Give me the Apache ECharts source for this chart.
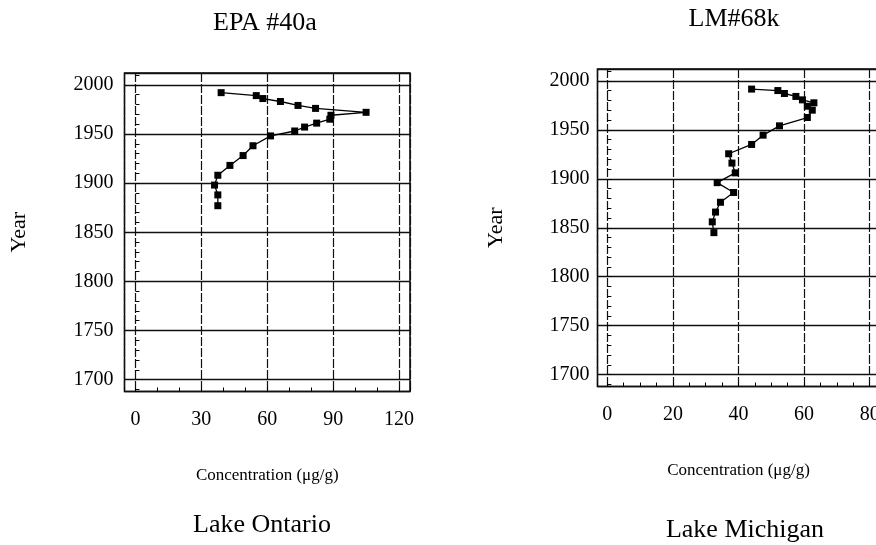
<!DOCTYPE html>
<html>
<head>
<meta charset="utf-8">
<script src="https://cdn.jsdelivr.net/npm/echarts@6/dist/echarts.min.js"></script>
<style>
  html, body { margin: 0; background: #fff; }
  #main { width: 876px; height: 545px; }
</style>
</head>
<body>
<div id="main"></div>
<script>
// Lake Ontario core EPA #40a (depth order, top to bottom)
const ontarioConc = [39, 55, 58, 66, 74, 82, 105, 89, 88.5, 82.5, 77, 72.5, 61.5, 53.5, 49, 43, 37.5, 36, 37.5, 37.5];
const ontarioYear = [1992, 1989, 1986, 1983, 1979, 1976, 1972, 1969, 1965, 1961, 1957, 1953, 1948, 1938, 1928, 1918, 1908, 1898, 1888, 1877];

// Lake Michigan core LM#68k
const michiganConc = [44, 52, 54, 57.5, 59.5, 63, 61, 62.5, 61, 52.5, 47.5, 44, 37, 38, 39, 33.5, 38.5, 34.5, 33, 32, 32.5];
const michiganYear = [1991.5, 1990, 1987, 1984, 1980.5, 1977.5, 1974, 1970, 1962.5, 1954, 1944.5, 1935, 1925.5, 1916, 1906, 1896, 1886, 1876, 1866, 1856, 1845];

const ontarioTicks = [0, 30, 60, 90, 120];
const michiganTicks = [0, 20, 40, 60, 80];
const yearTicks = [1700, 1750, 1800, 1850, 1900, 1950, 2000];

const serif = 'Liberation Serif';
const chart = echarts.init(document.getElementById('main'));

function pairs(xs, ys) {
  return xs.map((x, i) => [x, ys[i]]);
}

// axis carrying labels + small inside ticks
function labelX(grid, min, max, step, ticks, name) {
  return {
    type: 'value', gridIndex: grid, position: 'bottom', min: min, max: max,
    minInterval: step, maxInterval: step,
    name: name, nameLocation: 'middle', nameGap: 76,
    nameTextStyle: { fontFamily: serif, fontSize: 17, color: '#000' },
    axisLine: { show: false },
    axisTick: { show: true, inside: true, length: 4, lineStyle: { color: '#000', width: 1 } },
    axisLabel: {
      margin: 18, fontFamily: serif, fontSize: 20, color: '#000',
      formatter: v => ticks.includes(v) ? String(v) : ''
    },
    splitLine: { show: false }
  };
}
// axis carrying the grid lines
function gridX(grid, min, max, step) {
  return {
    type: 'value', gridIndex: grid, position: 'top', min: min, max: max,
    minInterval: step, maxInterval: step,
    axisLine: { show: false }, axisTick: { show: false }, axisLabel: { show: false },
    splitLine: { show: true, lineStyle: { color: '#111', width: 1.2, type: [9, 2] } }
  };
}
function labelY(grid, margin, gap) {
  return {
    type: 'value', gridIndex: grid, position: 'left', min: 1688, max: 2012,
    minInterval: 10, maxInterval: 10,
    name: 'Year', nameLocation: 'middle', nameGap: gap, nameRotate: 90,
    nameTextStyle: { fontFamily: serif, fontSize: 22, color: '#000' },
    axisLine: { show: false },
    axisTick: { show: true, inside: true, length: 4, lineStyle: { color: '#000', width: 1 } },
    axisLabel: {
      margin: margin, fontFamily: serif, fontSize: 20, color: '#000',
      formatter: v => yearTicks.includes(v) ? String(v) : ''
    },
    splitLine: { show: false }
  };
}
function gridY(grid) {
  return {
    type: 'value', gridIndex: grid, position: 'right', min: 1688, max: 2012,
    minInterval: 50, maxInterval: 50,
    axisLine: { show: false }, axisTick: { show: false }, axisLabel: { show: false },
    splitLine: { show: true, lineStyle: { color: '#111', width: 1.3 } }
  };
}

const lineSeries = (xi, yi, data) => ({
  type: 'line', xAxisIndex: xi, yAxisIndex: yi, data: data,
  symbol: 'rect', symbolSize: 7, showSymbol: true,
  lineStyle: { color: '#000', width: 1.3 },
  itemStyle: { color: '#000' },
  emphasis: { disabled: true }, z: 5
});

chart.setOption({
  backgroundColor: '#fff',
  animation: false,
  grid: [
    { left: 124.5, top: 73, width: 285.5, height: 318.5, show: true, borderColor: '#000', borderWidth: 1.5,
      containLabel: false, outerBoundsMode: 'none' },
    { left: 597.5, top: 69, width: 282, height: 317.5, show: true, borderColor: '#000', borderWidth: 1.5,
      containLabel: false, outerBoundsMode: 'none' }
  ],
  xAxis: [
    labelX(0, -5, 125, 10, ontarioTicks, 'Concentration (\u03bcg/g)'),
    gridX(0, -5, 125, 30),
    labelX(1, -3, 83, 5, michiganTicks, 'Concentration (\u03bcg/g)'),
    gridX(1, -3, 83, 20)
  ],
  yAxis: [
    labelY(0, 11, 94),
    gridY(0),
    labelY(1, 8, 90),
    gridY(1)
  ],
  series: [
    lineSeries(0, 0, pairs(ontarioConc, ontarioYear)),
    lineSeries(2, 2, pairs(michiganConc, michiganYear))
  ],
  graphic: [
    { type: 'text', x: 265, y: 23, style: { text: 'EPA #40a', font: '26px "Liberation Serif"', fill: '#000', textAlign: 'center', textVerticalAlign: 'middle' } },
    { type: 'text', x: 734, y: 19, style: { text: 'LM#68k', font: '26px "Liberation Serif"', fill: '#000', textAlign: 'center', textVerticalAlign: 'middle' } },
    { type: 'text', x: 262, y: 525, style: { text: 'Lake Ontario', font: '26px "Liberation Serif"', fill: '#000', textAlign: 'center', textVerticalAlign: 'middle' } },
    { type: 'text', x: 745, y: 530, style: { text: 'Lake Michigan', font: '26px "Liberation Serif"', fill: '#000', textAlign: 'center', textVerticalAlign: 'middle' } }
  ]
});
</script>
</body>
</html>
